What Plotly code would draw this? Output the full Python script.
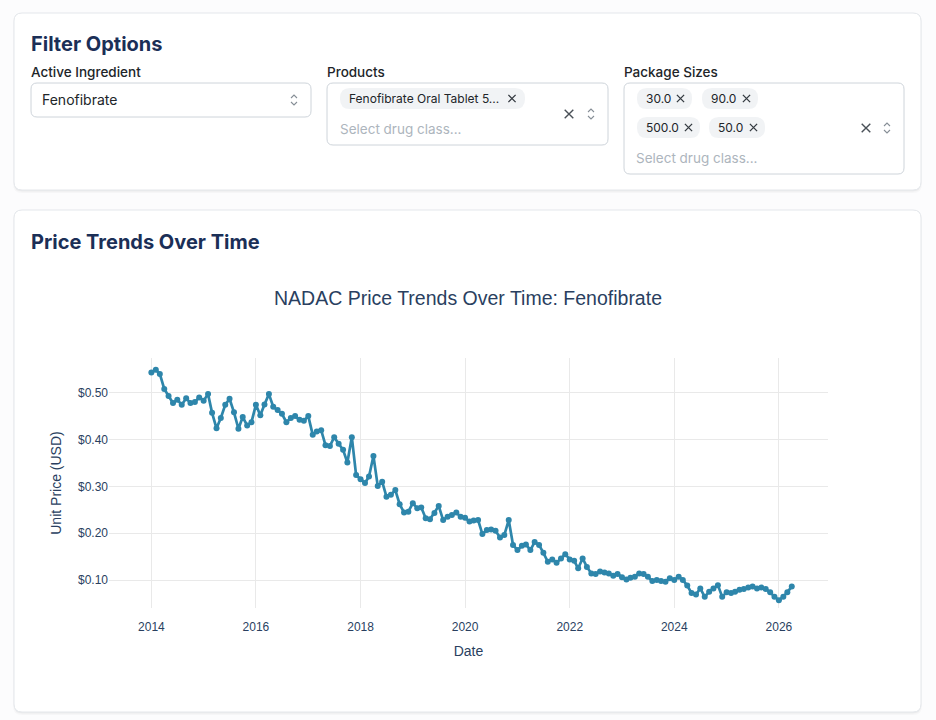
import plotly.graph_objects as go
import pandas as pd

W, H = 936, 720

# ---------------- data ----------------
start_month = "2014-01-01"
prices_2014_2017 = [0.543, 0.549, 0.540, 0.508, 0.493, 0.478, 0.485, 0.474, 0.488, 0.478,
                    0.480, 0.490, 0.483, 0.497, 0.457, 0.424, 0.446, 0.474, 0.487, 0.458,
                    0.423, 0.448, 0.430, 0.437, 0.474, 0.452, 0.475, 0.497, 0.470, 0.463,
                    0.455, 0.437, 0.446, 0.450, 0.442, 0.440, 0.450, 0.410]
prices_2017_2020 = [0.417, 0.420, 0.388, 0.386, 0.405, 0.391, 0.378, 0.351, 0.405, 0.324,
                    0.315, 0.307, 0.321, 0.365, 0.301, 0.310, 0.278, 0.282, 0.292, 0.262,
                    0.244, 0.246, 0.264, 0.253, 0.255, 0.232, 0.230, 0.243, 0.258, 0.228,
                    0.235, 0.239, 0.244, 0.235, 0.233, 0.225]
prices_2020_2023 = [0.227, 0.228, 0.198, 0.207, 0.208, 0.205, 0.191, 0.196, 0.228, 0.175,
                    0.164, 0.173, 0.176, 0.164, 0.181, 0.175, 0.158, 0.139, 0.144, 0.137,
                    0.146, 0.155, 0.144, 0.141, 0.125, 0.146, 0.128, 0.114, 0.113, 0.118,
                    0.116, 0.114, 0.109, 0.113, 0.106, 0.101]
prices_2023_2026 = [0.105, 0.107, 0.114, 0.113, 0.107, 0.098, 0.100, 0.098, 0.096, 0.104,
                    0.100, 0.107, 0.100, 0.088, 0.072, 0.069, 0.082, 0.064, 0.075, 0.082,
                    0.089, 0.064, 0.074, 0.072, 0.075, 0.079, 0.081, 0.084, 0.086, 0.082,
                    0.084, 0.081, 0.074, 0.064, 0.057, 0.064, 0.074, 0.086]
prices = prices_2014_2017 + prices_2017_2020 + prices_2020_2023 + prices_2023_2026
dates = pd.date_range(start_month, periods=len(prices), freq="MS")

ingredient = "Fenofibrate"
product_chips = ["Fenofibrate Oral Tablet 5..."]
package_chips = ["30.0", "90.0", "500.0", "50.0"]
placeholder = "Select drug class..."

# ---------------- helpers ----------------
def px(x):
    return x / W

def py(y):
    return 1 - y / H

def rrect(x0, y0, x1, y1, r):
    return (f"M {px(x0 + r)},{py(y0)} L {px(x1 - r)},{py(y0)} "
            f"Q {px(x1)},{py(y0)} {px(x1)},{py(y0 + r)} L {px(x1)},{py(y1 - r)} "
            f"Q {px(x1)},{py(y1)} {px(x1 - r)},{py(y1)} L {px(x0 + r)},{py(y1)} "
            f"Q {px(x0)},{py(y1)} {px(x0)},{py(y1 - r)} L {px(x0)},{py(y0 + r)} "
            f"Q {px(x0)},{py(y0)} {px(x0 + r)},{py(y0)} Z")

shapes = []

def box(x0, y0, x1, y1, r, fill, line=None, lw=1):
    shapes.append(dict(type="path", xref="paper", yref="paper", layer="below",
                       path=rrect(x0, y0, x1, y1, r), fillcolor=fill,
                       line=dict(color=line if line else "rgba(0,0,0,0)", width=lw if line else 0)))

def card(x0, y0, x1, y1):
    box(x0 - 1, y0, x1 + 1, y1 + 3, 9, "rgba(0,0,0,0.025)")
    box(x0, y0, x1, y1 + 1.5, 8, "rgba(0,0,0,0.04)")
    box(x0, y0, x1, y1, 8, "#ffffff", "#e4e7eb", 1)

def cross(cx, cy, s, color, w):
    shapes.append(dict(type="path", xref="paper", yref="paper", layer="above",
                       path=(f"M {px(cx - s)},{py(cy - s)} L {px(cx + s)},{py(cy + s)} "
                             f"M {px(cx - s)},{py(cy + s)} L {px(cx + s)},{py(cy - s)}"),
                       line=dict(color=color, width=w)))

def chevrons(cx, cy):
    shapes.append(dict(type="path", xref="paper", yref="paper", layer="above",
                       path=(f"M {px(cx - 3)},{py(cy - 2)} L {px(cx)},{py(cy - 5)} L {px(cx + 3)},{py(cy - 2)} "
                             f"M {px(cx - 3)},{py(cy + 2)} L {px(cx)},{py(cy + 5)} L {px(cx + 3)},{py(cy + 2)}"),
                       line=dict(color="#868e96", width=1.1)))

annotations = []

def text(x, y, s, size, color, weight=400, family="Inter"):
    annotations.append(dict(x=px(x), y=py(y), xref="paper", yref="paper", text=s,
                            showarrow=False, xanchor="left", yanchor="middle",
                            font=dict(family=family, size=size, color=color, weight=weight)))

# ---------------- cards ----------------
card(14, 13, 921, 190)
card(14, 210, 921, 712)

HEAD = "#1b2f57"
LBL = "#212529"
PH = "#adb5bd"

text(29, 44, "Filter Options", 20, HEAD, 700)
text(29, 72, "Active Ingredient", 13.5, LBL, 500)
text(325, 72, "Products", 13.5, LBL, 500)
text(622, 72, "Package Sizes", 13.5, LBL, 500)

# select 1
box(31, 83, 311, 117, 6, "#ffffff", "#ced4da", 1)
text(40, 100, ingredient, 14, LBL)
chevrons(294, 100)

# select 2
box(327, 83, 608, 145, 6, "#ffffff", "#ced4da", 1)
box(340, 88, 525, 109, 10, "#f1f3f5")
text(347, 98.5, product_chips[0], 12, LBL)
cross(512, 98.5, 3.6, "#343a40", 1.3)
text(338, 129, placeholder, 13.5, PH)
cross(569, 114, 4.3, "#495057", 1.4)
chevrons(591, 114)

# select 3
box(624, 83, 904, 174, 6, "#ffffff", "#ced4da", 1)
chip_boxes = [(637, 88, 692, 109), (702, 88, 758, 109), (637, 117, 700, 138), (709, 117, 765, 138)]
for (x0, y0, x1, y1), lab in zip(chip_boxes, package_chips):
    box(x0, y0, x1, y1, 10, "#f1f3f5")
    text(x0 + 7, (y0 + y1) / 2, lab, 12, LBL)
    cross(x1 - 11.5, (y0 + y1) / 2, 3.6, "#343a40", 1.3)
text(634, 158, placeholder, 13.5, PH)
cross(866, 128, 4.3, "#495057", 1.4)
chevrons(887, 128)

text(29, 242, "Price Trends Over Time", 20, HEAD, 700)

# ---------------- chart ----------------
fig = go.Figure()
fig.add_trace(go.Scatter(x=dates, y=prices, mode="lines+markers",
                         line=dict(color="#2E86AB", width=2.7),
                         marker=dict(color="#2E86AB", size=6),
                         name="Price"))

CH = "#2a3f5f"
GRID = "#e9e9e9"
fig.update_layout(
    width=W, height=H,
    margin=dict(l=0, r=0, t=0, b=0),
    paper_bgcolor="#fcfcfd",
    plot_bgcolor="#ffffff",
    showlegend=False,
    font=dict(family="Liberation Sans, Arial", color=CH),
    title=dict(text="NADAC Price Trends Over Time: Fenofibrate", x=0.5, xanchor="center",
               y=py(298), yanchor="middle", yref="paper",
               font=dict(family="Liberation Sans, Arial", size=19.5, color=CH)),
    xaxis=dict(domain=[px(109), px(828)], type="date",
               range=["2013-03-11", "2026-12-10"],
               tick0="2014-01-01", dtick="M24", tickformat="%Y",
               showgrid=True, gridcolor=GRID, gridwidth=1, zeroline=False, showline=False,
               ticks="outside", ticklen=8, tickcolor="rgba(0,0,0,0)", automargin=False,
               tickfont=dict(size=12, color=CH),
               title=dict(text="Date", font=dict(size=14, color=CH), standoff=12)),
    yaxis=dict(domain=[py(608), py(358)],
               range=[0.0402, 0.5741], tick0=0, dtick=0.1, tickformat="$.2f",
               showgrid=True, gridcolor=GRID, gridwidth=1, zeroline=False, showline=False,
               ticks="", automargin=False,
               tickfont=dict(size=12, color=CH),
               title=dict(text="Unit Price (USD)", font=dict(size=14, color=CH), standoff=13)),
    shapes=shapes,
    annotations=annotations,
)

fig.write_html("out.html")
